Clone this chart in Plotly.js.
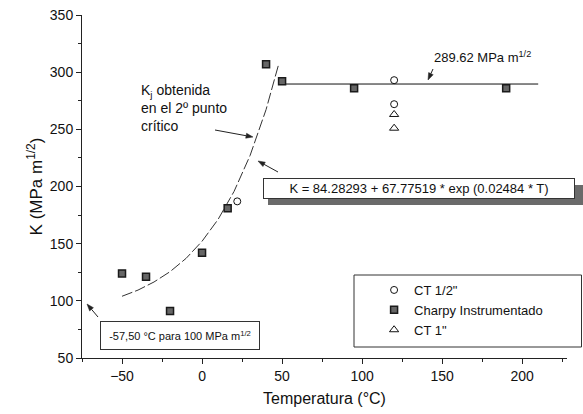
<!DOCTYPE html>
<html><head><meta charset="utf-8">
<script src="https://cdn.plot.ly/plotly-3.0.1.min.js"></script>
<style>body{margin:0;padding:0;background:#fff}#c{width:583px;height:414px}</style>
</head><body><div id="c"></div>
<script>
// Charpy instrumentado
const charpyT = [-50, -35, -20, 0, 16, 40, 50, 95, 190];
const charpyK = [124, 121, 91, 142, 181, 307, 292, 286, 286];
// CT 1/2"
const ctHalfT = [22, 120, 120];
const ctHalfK = [187, 293, 272];
// CT 1"
const ct1T = [120, 120];
const ct1K = [263, 251];
// exponential fit curve
const fitT = [-50, -40, -30, -20, -10, 0, 10, 20, 30, 40, 48];
const fitK = [104, 109.4, 116.5, 125.5, 137.1, 152.1, 171.2, 195.7, 227.1, 267.3, 307.6];
// upper shelf
const shelfT = [50, 210];
const shelfK = [289.62, 289.62];

const F = "Liberation Sans, Arial, sans-serif";

// page-pixel helpers for decorations (plot area: x 82..567, y 15..358)
const PL = 82, PW = 485, PB = 358, PH = 343;
const px = v => (v - PL) / PW;
const py = v => (PB - v) / PH;

function arrow(x1, y1, x2, y2) {
  const dx = x2 - x1, dy = y2 - y1, L = Math.hypot(dx, dy);
  const ux = dx / L, uy = dy / L, hl = 7, hw = 2.5;
  const bx = x2 - ux * hl, by = y2 - uy * hl;
  const lx = bx - uy * hw, ly = by + ux * hw, rx = bx + uy * hw, ry = by - ux * hw;
  return [
    {type: 'line', xref: 'paper', yref: 'paper', x0: px(x1), y0: py(y1), x1: px(bx), y1: py(by),
     line: {color: '#222', width: 1}},
    {type: 'path', xref: 'paper', yref: 'paper',
     path: `M ${px(x2)} ${py(y2)} L ${px(lx)} ${py(ly)} L ${px(rx)} ${py(ry)} Z`,
     fillcolor: '#222', line: {color: '#222', width: 0.5}}
  ];
}

const traces = [
  {x: fitT, y: fitK, mode: 'lines', line: {color: '#333', width: 1, dash: '11px,3px'}, showlegend: false, hoverinfo: 'skip'},
  {x: shelfT, y: shelfK, mode: 'lines', line: {color: '#111', width: 1}, showlegend: false, hoverinfo: 'skip'},
  {x: ctHalfT, y: ctHalfK, mode: 'markers', name: 'CT 1/2"',
   marker: {symbol: 'circle-open', size: 7, color: '#111', line: {width: 1, color: '#111'}}},
  {x: charpyT, y: charpyK, mode: 'markers', name: 'Charpy Instrumentado',
   marker: {symbol: 'square', size: 7, color: '#666', line: {width: 1.5, color: '#1a1a1a'}}},
  {x: ct1T, y: ct1K, mode: 'markers', name: 'CT 1"',
   marker: {symbol: 'triangle-up-open', size: 8, color: '#111', line: {width: 1, color: '#111'}}}
];

const shapes = [
  {type: 'rect', xref: 'paper', yref: 'paper', x0: px(268), x1: px(583), y0: py(205), y1: py(185),
   fillcolor: '#6a6a6a', line: {width: 0}, layer: 'above'},
  {type: 'rect', xref: 'paper', yref: 'paper', x0: px(354), x1: px(581.5), y0: py(347), y1: py(275),
   fillcolor: 'rgba(0,0,0,0)', line: {width: 1, color: '#333'}, layer: 'above'}
].concat(arrow(433, 69, 428, 80), arrow(215, 130, 253, 137), arrow(278, 172, 258, 161), arrow(98, 317, 87, 304));

const layout = {
  width: 583, height: 414,
  margin: {l: 82, r: 16, t: 15, b: 56},
  paper_bgcolor: '#fff', plot_bgcolor: '#fff',
  font: {family: F, color: '#111', size: 13},
  xaxis: {range: [-75, 228], showgrid: false, zeroline: false, showline: true, linecolor: '#222', linewidth: 1,
    tickmode: 'array', tickvals: [-50, 0, 50, 100, 150, 200], ticks: 'outside', ticklen: 5, tickcolor: '#222',
    minor: {tickvals: [-75, -25, 25, 75, 125, 175, 225], ticks: 'outside', ticklen: 3, tickcolor: '#222'},
    tickfont: {size: 14, family: F},
    title: {text: 'Temperatura (°C)', font: {size: 16, family: F}, standoff: 10}},
  yaxis: {range: [50, 350], showgrid: false, zeroline: false, showline: true, linecolor: '#222', linewidth: 1,
    tickmode: 'array', tickvals: [50, 100, 150, 200, 250, 300, 350], ticks: 'outside', ticklen: 5, tickcolor: '#222',
    minor: {tickvals: [75, 125, 175, 225, 275, 325], ticks: 'outside', ticklen: 3, tickcolor: '#222'},
    tickfont: {size: 14, family: F},
    title: {text: 'K (MPa m<sup>1/2</sup>)', font: {size: 17, family: F}, standoff: 2}},
  legend: {x: 0.561, xanchor: 'left', y: 0.242, yanchor: 'top', borderwidth: 0,
    bgcolor: 'rgba(0,0,0,0)', font: {size: 13, family: F}, indentation: 20, tracegroupgap: 0},
  shapes: shapes,
  annotations: [
    {x: 143.75, y: 313.3, xanchor: 'left', yanchor: 'middle', showarrow: false,
     text: '289.62 MPa m<sup>1/2</sup>', font: {size: 13, family: F}},
    {x: -39.4, y: 293, xanchor: 'left', yanchor: 'top', align: 'left', showarrow: false,
     text: 'K<sub>j</sub> obtenida<br>en el 2º punto<br>crítico', font: {size: 14, family: F}},
    {x: 135.6, y: 198.3, showarrow: false, text: 'K = 84.28293 + 67.77519 * exp (0.02484 * T)',
     font: {size: 13, family: F}, bgcolor: '#fff', bordercolor: '#333', borderwidth: 1, borderpad: 2, width: 306},
    {x: -14, y: 69.5, showarrow: false, text: '-57,50 °C para 100 MPa m<sup>1/2</sup>',
     font: {size: 11, family: F}, bgcolor: '#fff', bordercolor: '#333', borderwidth: 1, borderpad: 3, width: 152, height: 21}
  ]
};

Plotly.newPlot('c', traces, layout, {displayModeBar: false, staticPlot: true});
</script>
</body></html>
